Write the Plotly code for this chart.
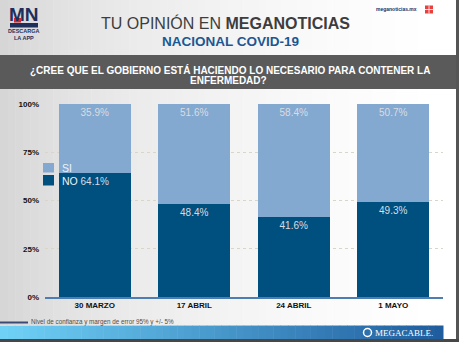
import plotly.graph_objects as go

# Survey results (percent of respondents)
fechas = ["30 MARZO", "17 ABRIL", "24 ABRIL", "1 MAYO"]
si_pct = [35.9, 51.6, 58.4, 50.7]
no_pct = [64.1, 48.4, 41.6, 49.3]
y_tick_vals = [0, 25, 50, 75, 100]
y_tick_text = ["0%", "25%", "50%", "75%", "100%"]
serie_si = "SI"
serie_no = "NO"

titulo = "TU OPINIÓN EN <b>MEGANOTICIAS</b>"
subtitulo = "NACIONAL COVID-19"
pregunta_1 = "¿CREE QUE EL GOBIERNO ESTÁ HACIENDO LO NECESARIO PARA CONTENER LA"
pregunta_2 = "ENFERMEDAD?"
nota = "Nivel de confianza y margen de error 95% y +/- 5%"

SI_COLOR = "#84a9d0"
NO_COLOR = "#00507f"
LABEL_COLOR = "#d8dce3"
FONT = "Liberation Sans"

W, H = 459, 342
L, R, T, B = 45, 443, 104, 297  # plot box in page pixels


def px(x):
    return (x - L) / (R - L)


def py(y):
    return (B - y) / (B - T)


def rect(x0, y0, x1, y1, color, layer="below"):
    return dict(type="rect", xref="paper", yref="paper",
                x0=px(x0), x1=px(x1), y0=py(y0), y1=py(y1),
                fillcolor=color, line=dict(width=0), layer=layer)


def mix(c0, c1, t):
    return "rgb(%d,%d,%d)" % tuple(round(a + (b - a) * t) for a, b in zip(c0, c1))


def text(x, y, s, size, color, bold=False, xanchor="center", family=FONT):
    return dict(xref="paper", yref="paper", x=px(x), y=py(y), text=s,
                showarrow=False, xanchor=xanchor, yanchor="middle",
                font=dict(family=family, size=size, color=color,
                          weight="bold" if bold else "normal"))


fig = go.Figure()
bar_common = dict(texttemplate="%{y:.1f}%", textposition="inside",
                  insidetextanchor="end", textangle=0,
                  textfont=dict(family=FONT, size=10, color=LABEL_COLOR),
                  width=0.72, showlegend=False)
fig.add_bar(x=fechas, y=no_pct, name=serie_no, marker=dict(color=NO_COLOR, line=dict(width=0)), **bar_common)
fig.add_bar(x=fechas, y=si_pct, name=serie_si, marker=dict(color=SI_COLOR, line=dict(width=0)), **bar_common)

shapes = []
# soft grey wash on the left side of the slide
wash = [(0, 214), (60, 226), (140, 236), (240, 245), (330, 251), (420, 255)]
n = 60
for i in range(n):
    x0 = 456 * i / n
    x1 = 456 * (i + 1) / n + 0.5
    xm = (x0 + x1) / 2
    g = 255
    for (a, ga), (b, gb) in zip(wash[:-1], wash[1:]):
        if a <= xm <= b:
            g = ga + (gb - ga) * (xm - a) / (b - a)
    shapes.append(rect(x0, 0, x1, 325, "rgb(%d,%d,%d)" % (g, g, g)))

# question band
shapes.append(rect(0, 55, 456, 89, "#5a5a5a"))

# bottom brand band (light cyan to blue)
m = 60
for i in range(m):
    x0 = 443 * i / m
    x1 = 443 * (i + 1) / m + 0.5
    shapes.append(rect(x0, 325.5, x1, 339, mix((112, 210, 247), (30, 92, 158), (i + 0.5) / m)))

# footnote rule
shapes.append(dict(type="line", xref="paper", yref="paper", x0=px(0), x1=px(28),
                   y0=py(322.5), y1=py(322.5), line=dict(color="#3b4a74", width=2)))

# logo pieces
shapes.append(rect(14, 18, 21, 22.5, "#d9262c", layer="above"))
shapes.append(rect(10, 23, 38, 27.5, "#1e2f5c", layer="above"))
# small red grid icon
shapes.append(rect(425, 5.5, 433, 13.5, "#e8403f", layer="above"))
shapes.append(dict(type="line", xref="paper", yref="paper", x0=px(429), x1=px(429),
                   y0=py(5.5), y1=py(13.5), line=dict(color="white", width=0.8)))
shapes.append(dict(type="line", xref="paper", yref="paper", x0=px(425), x1=px(433),
                   y0=py(9.5), y1=py(9.5), line=dict(color="white", width=0.8)))
# brand circle
shapes.append(dict(type="circle", xref="paper", yref="paper", x0=px(363.5), x1=px(371.5),
                   y0=py(328.5), y1=py(336.5), line=dict(color="white", width=1.5)))

# legend swatches
shapes.append(rect(43, 163, 54, 172.5, SI_COLOR, layer="above"))
shapes.append(rect(43, 175, 54, 185.5, NO_COLOR, layer="above"))

# frame edges
shapes.append(rect(456, 0, 459, 342, "#555555", layer="above"))
shapes.append(rect(0, 339, 459, 342, "#474747", layer="above"))

annotations = [
    text(225.5, 22.5, titulo, 16, "#3d3d3d"),
    text(230, 41.5, subtitulo, 13.5, "#1b5793", bold=True),
    text(229.5, 70.3, pregunta_1, 10, "white", bold=True),
    text(228.5, 80.3, pregunta_2, 10, "white", bold=True),
    text(24, 14.5, "MN", 19, "#1e2f5c", bold=True),
    text(24, 31, "DESCARGA", 5.5, "#1e2f5c", bold=True),
    text(24, 38, "LA APP", 5.5, "#1e2f5c", bold=True),
    text(419, 9, "meganoticias.mx", 5, "#1e2f5c", bold=True, xanchor="right"),
    text(60, 167.5, serie_si, 10.5, "#eef2f7", xanchor="left"),
    text(60, 180.5, serie_no, 10.5, "#eef2f7", xanchor="left"),
    text(29, 322, nota, 6.3, "#4d4d4d", xanchor="left"),
    text(373, 332.5, "MEGACABLE.", 9, "white", xanchor="left", family="Liberation Serif"),
]

fig.update_layout(
    width=W, height=H, autosize=False,
    margin=dict(l=L, r=W - R, t=T, b=H - B, pad=0),
    barmode="stack",
    paper_bgcolor="white",
    plot_bgcolor="rgba(0,0,0,0)",
    font=dict(family=FONT, color="#111111"),
    shapes=shapes,
    annotations=annotations,
    showlegend=False,
    xaxis=dict(showgrid=False, showline=True, linecolor="#4e7db3", linewidth=1.5,
               tickfont=dict(family=FONT, size=8, color="#111111", weight="bold"),
               ticks="", fixedrange=True),
    yaxis=dict(range=[0, 100], tickvals=y_tick_vals, ticktext=y_tick_text,
               showgrid=True, gridcolor="#d9d6c6", griddash="dot", gridwidth=1,
               zeroline=False, showline=False, ticks="", ticklabelstandoff=5,
               tickfont=dict(family=FONT, size=8, color="#111111", weight="bold"),
               fixedrange=True),
)

fig.write_html("out.html")
